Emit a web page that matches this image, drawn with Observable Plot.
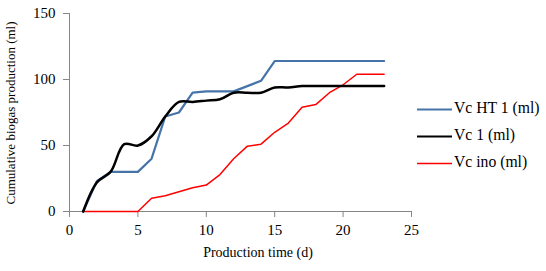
<!DOCTYPE html>
<html>
<head>
<meta charset="utf-8">
<script src="https://cdn.jsdelivr.net/npm/d3@7"></script>
<script src="https://cdn.jsdelivr.net/npm/@observablehq/plot@0.6"></script>
<style>
  html, body { margin: 0; padding: 0; background: #fff; }
  #wrap { position: relative; width: 546px; height: 271px; }
  #legend { position: absolute; left: 0; top: 0; }
  svg, svg text { font-family: "Liberation Serif", serif !important; }
</style>
</head>
<body>
<div id="wrap"></div>
<script>
const days = [1,2,3,4,5,6,7,8,9,10,11,12,13,14,15,16,17,18,19,20,21,22,23];
const vcHT1 = [0,23,30,30,30,40,72,75,90,91,91,91,95,99,114,114,114,114,114,114,114,114,114];
const vc1   = [0,22,30,51,50,57,72,83,83,84,85,90,90,90,94,94,95,95,95,95,95,95,95];
const vcIno = [0,0,0,0,0,10,12,15,18,20,28,40,49.5,51,60,67,79,81,90,96,104,104,104];
const seriesNames = ["Vc HT 1 (ml)", "Vc 1 (ml)", "Vc ino (ml)"];
const seriesColors = ["#4674a9", "#000000", "#ff0000"];
const xTicks = [0,5,10,15,20,25];
const yTicks = [0,50,100,150];

const mk = (vals) => days.map((d, i) => ({day: d, v: vals[i]}));
const dHT = mk(vcHT1), d1 = mk(vc1), dIno = mk(vcIno);

const font = "Liberation Serif";
const axisColor = "#868686";

const chart = Plot.plot({
  width: 546,
  height: 271,
  marginLeft: 69,
  marginRight: 135,
  marginTop: 13,
  marginBottom: 60,
  style: {fontSize: "15px", color: "#000", background: "#fff"},
  x: {domain: [0, 25], ticks: xTicks, label: null},
  y: {domain: [0, 150], ticks: yTicks, label: null},
  marks: [
    Plot.axisX({ticks: xTicks, tickSize: 6, tickPadding: 7, stroke: axisColor, fill: "#000", fontSize: 15, label: null}),
    Plot.axisY({ticks: yTicks, tickSize: 6, tickPadding: 8, stroke: axisColor, fill: "#000", fontSize: 15, label: null}),
    Plot.ruleY([0], {stroke: axisColor, strokeWidth: 1}),
    Plot.ruleX([0], {stroke: axisColor, strokeWidth: 1}),
    Plot.lineY(dIno, {x: "day", y: "v", stroke: seriesColors[2], strokeWidth: 1.5}),
    Plot.lineY(dHT, {x: "day", y: "v", stroke: seriesColors[0], strokeWidth: 2.2}),
    Plot.lineY(d1, {x: "day", y: "v", stroke: seriesColors[1], strokeWidth: 2.5, curve: "catmull-rom"})
  ]
});
chart.style.position = "absolute";
chart.style.left = "0";
chart.style.top = "0";
chart.querySelectorAll("text").forEach(t => t.setAttribute("font-family", font));
const wrap = document.getElementById("wrap");
wrap.appendChild(chart);

const ns = "http://www.w3.org/2000/svg";
const ov = document.createElementNS(ns, "svg");
ov.setAttribute("width", 546);
ov.setAttribute("height", 271);
ov.setAttribute("id", "legend");
function txt(x, y, s, size, anchor, rot) {
  const t = document.createElementNS(ns, "text");
  t.setAttribute("x", x); t.setAttribute("y", y);
  t.setAttribute("font-size", size);
  t.setAttribute("font-family", font);
  t.setAttribute("text-anchor", anchor);
  t.setAttribute("dominant-baseline", "middle");
  t.setAttribute("fill", "#000");
  if (rot) t.setAttribute("transform", `rotate(-90 ${x} ${y})`);
  t.textContent = s;
  ov.appendChild(t);
}
txt(258, 254, "Production time (d)", 14, "middle");
txt(12.5, 113, "Cumulative  biogas production (ml)", 13, "middle", true);
const legY = [109.5, 136.5, 163.5];
seriesNames.forEach((n, i) => {
  const l = document.createElementNS(ns, "line");
  l.setAttribute("x1", 417); l.setAttribute("x2", 452);
  l.setAttribute("y1", legY[i]); l.setAttribute("y2", legY[i]);
  l.setAttribute("stroke", seriesColors[i]);
  l.setAttribute("stroke-width", i === 2 ? 1.5 : 2.2);
  ov.appendChild(l);
  txt(454, legY[i], n, 15.7, "start");
});
wrap.appendChild(ov);
</script>
</body>
</html>
